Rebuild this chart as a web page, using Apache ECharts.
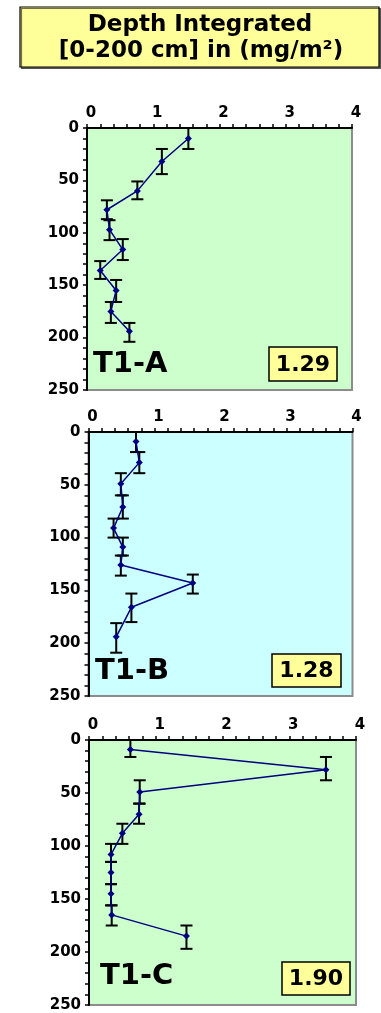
<!DOCTYPE html>
<html>
<head>
<meta charset="utf-8">
<script src="https://cdn.jsdelivr.net/npm/echarts@6.0.0/dist/echarts.min.js"></script>
<style>
  html, body { margin: 0; padding: 0; background: #fff; }
  #chart { width: 381px; height: 1013px; }
</style>
</head>
<body>
<div id="chart"></div>
<script>
// Axis ticks shared by the three profiles
const concTicks = [0, 1, 2, 3, 4];             // concentration (mg/m2)
const depthTicks = [0, 50, 100, 150, 200, 250]; // depth (cm)

// Station names and depth-integrated totals
const sites = ['T1-A', 'T1-B', 'T1-C'];
const integrated = ['1.29', '1.28', '1.90'];

// T1-A: mid-depth, concentration, and sampled interval (top / bottom, cm)
const depthA = [10, 32, 60, 78, 97, 116, 136, 155, 175, 194];
const concA  = [1.53, 1.13, 0.76, 0.30, 0.34, 0.54, 0.20, 0.44, 0.36, 0.64];
const topA   = [0, 20, 51, 69, 88, 106, 127, 145, 166, 186];
const botA   = [20, 44, 68, 87, 107, 126, 144, 166, 186, 204];

// T1-B
const depthB = [9, 29, 49, 71, 91, 109, 126, 143, 166, 194];
const concB  = [0.72, 0.77, 0.49, 0.52, 0.38, 0.52, 0.49, 1.58, 0.65, 0.42];
const topB   = [0, 19, 39, 60, 82, 100, 117, 135, 153, 181];
const botB   = [19, 39, 60, 82, 100, 117, 136, 153, 180, 209];

// T1-C
const depthC = [9, 28, 49, 70, 88, 108, 125, 145, 165, 185];
const concC  = [0.62, 3.55, 0.76, 0.75, 0.50, 0.33, 0.33, 0.33, 0.34, 1.46];
const topC   = [0, 16, 38, 60, 79, 98, 115, 136, 156, 175];
const botC   = [16, 38, 60, 79, 98, 115, 136, 156, 175, 197];

const profiles = [
  { depth: depthA, conc: concA, top: topA, bot: botA },
  { depth: depthB, conc: concB, top: topB, bot: botB },
  { depth: depthC, conc: concC, top: topC, bot: botC }
];

// Panel layout
const panels = [
  { left: 87,   top: 128, width: 265, height: 262, bg: '#CCFFCC',
    name: [93, 368],  box: [269, 347, 68, 34] },
  { left: 88.5, top: 432, width: 264, height: 264, bg: '#CCFFFF',
    name: [95, 675],  box: [272, 654, 69, 33] },
  { left: 89,   top: 740, width: 267, height: 265, bg: '#CCFFCC',
    name: [100, 980], box: [282, 962, 68, 33] }
];

const FONT = 'DejaVu Sans';

function errorBars(params, api) {
  const x = api.value(0);
  const p1 = api.coord([x, api.value(2)]);
  const p2 = api.coord([x, api.value(3)]);
  const cap = 6;
  const style = { stroke: '#000', lineWidth: 2, fill: null };
  return {
    type: 'group',
    children: [
      { type: 'line', shape: { x1: p1[0], y1: p1[1], x2: p2[0], y2: p2[1] }, style },
      { type: 'line', shape: { x1: p1[0] - cap, y1: p1[1], x2: p1[0] + cap, y2: p1[1] }, style },
      { type: 'line', shape: { x1: p2[0] - cap, y1: p2[1], x2: p2[0] + cap, y2: p2[1] }, style }
    ]
  };
}

const grids = [], xAxes = [], yAxes = [], series = [], graphics = [];

panels.forEach((p, i) => {
  grids.push({
    left: p.left, top: p.top, width: p.width, height: p.height,
    show: true, backgroundColor: p.bg,
    borderColor: '#8c8c8c', borderWidth: 2,
    containLabel: false, outerBoundsMode: 'none'
  });
  xAxes.push({
    gridIndex: i, type: 'value', position: 'top',
    min: concTicks[0], max: concTicks[concTicks.length - 1],
    interval: concTicks[1] - concTicks[0],
    axisLine: { show: true, onZero: false, lineStyle: { color: '#000', width: 2 } },
    axisTick: { show: true, inside: false, length: 4, lineStyle: { color: '#000', width: 1.5 } },
    minorTick: { show: true, splitNumber: 5, length: 4, lineStyle: { color: '#000', width: 1.5 } },
    splitLine: { show: false },
    axisLabel: {
      show: true, showMinLabel: true, showMaxLabel: true,
      fontFamily: FONT, fontWeight: 'bold', fontSize: 15, color: '#000',
      margin: 7, padding: [0, 0, 0, 8]
    }
  });
  yAxes.push({
    gridIndex: i, type: 'value', inverse: true,
    min: depthTicks[0], max: depthTicks[depthTicks.length - 1],
    interval: depthTicks[1] - depthTicks[0],
    axisLine: { show: true, onZero: false, lineStyle: { color: '#000', width: 2 } },
    axisTick: { show: true, inside: false, length: 4, lineStyle: { color: '#000', width: 1.5 } },
    minorTick: { show: true, splitNumber: 5, length: 4, lineStyle: { color: '#000', width: 1.5 } },
    splitLine: { show: false },
    axisLabel: {
      show: true, showMinLabel: true, showMaxLabel: true,
      fontFamily: FONT, fontWeight: 'bold', fontSize: 15, color: '#000', margin: 8
    }
  });

  const prof = profiles[i];
  series.push({
    type: 'custom', xAxisIndex: i, yAxisIndex: i,
    renderItem: errorBars,
    encode: { x: 0, y: 1 },
    data: prof.conc.map((v, k) => [v, prof.depth[k], prof.top[k], prof.bot[k]]),
    z: 2, silent: true
  });
  series.push({
    type: 'line', xAxisIndex: i, yAxisIndex: i,
    data: prof.conc.map((v, k) => [v, prof.depth[k]]),
    symbol: 'diamond', symbolSize: 7,
    itemStyle: { color: '#000080' },
    lineStyle: { color: '#000080', width: 1.5 },
    z: 3, silent: true
  });

  // station name and depth-integrated total
  graphics.push({
    type: 'text', left: p.name[0], top: p.name[1] - 18,
    style: { text: sites[i], font: 'bold 29px "DejaVu Sans"', fill: '#000' }
  });
  graphics.push({
    type: 'rect',
    shape: { x: p.box[0], y: p.box[1], width: p.box[2], height: p.box[3] },
    style: { fill: '#FFFF99', stroke: '#000', lineWidth: 1.5 }
  });
  graphics.push({
    type: 'text',
    style: {
      text: integrated[i], x: p.box[0] + p.box[2] / 2, y: p.box[1] + p.box[3] / 2 + 1,
      align: 'center', verticalAlign: 'middle',
      font: 'bold 22px "DejaVu Sans"', fill: '#000'
    }
  });
});

// heading box
graphics.push({
  type: 'rect',
  shape: { x: 20, y: 7, width: 359, height: 60 },
  style: { fill: '#FFFF99', stroke: '#000', lineWidth: 1.2,
           shadowColor: 'rgba(0,0,0,0.55)', shadowOffsetX: 1.5, shadowOffsetY: 1.5, shadowBlur: 0 }
});
graphics.push({
  type: 'text',
  style: { text: 'Depth Integrated', x: 200, y: 25, align: 'center', verticalAlign: 'middle',
           font: 'bold 23px "DejaVu Sans"', fill: '#000' }
});
graphics.push({
  type: 'text',
  style: { text: '[0-200 cm] in (mg/m²)', x: 201, y: 51, align: 'center', verticalAlign: 'middle',
           font: 'bold 23px "DejaVu Sans"', fill: '#000' }
});

const chart = echarts.init(document.getElementById('chart'), null, { renderer: 'canvas' });
chart.setOption({
  animation: false,
  backgroundColor: '#fff',
  grid: grids,
  xAxis: xAxes,
  yAxis: yAxes,
  series: series,
  graphic: graphics
});
</script>
</body>
</html>
